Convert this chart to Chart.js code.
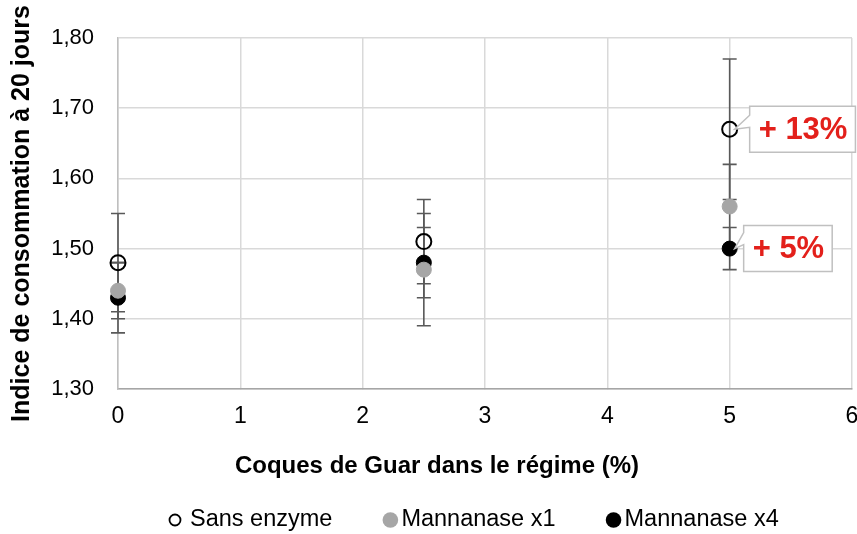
<!DOCTYPE html>
<html>
<head>
<meta charset="utf-8">
<script src="https://cdn.jsdelivr.net/npm/chart.js@4"></script>
<style>
  body { margin: 0; background: #fff; }
</style>
</head>
<body>
<canvas id="chart" width="857" height="534"></canvas>
<script>
const guarLevels = [0, 2.5, 5];

const sansEnzyme = [1.48, 1.51, 1.67];
const sansEnzymeErr = [0.07, 0.06, 0.10];

const mannanaseX1 = [1.44, 1.47, 1.56];
const mannanaseX1Err = [0.04, 0.08, 0.06];

const mannanaseX4 = [1.43, 1.48, 1.50];
const mannanaseX4Err = [0.05, 0.05, 0.03];

// callouts: series index, point index, text
const callouts = [
    { series: 0, point: 2, text: '+ 13%' },
    { series: 2, point: 2, text: '+ 5%' }
];

const xTitle = 'Coques de Guar dans le régime (%)';

const FONT = "'Liberation Sans', Arial, sans-serif";

function toPoints(values) {
    return values.map((v, i) => ({ x: guarLevels[i], y: v }));
}

const errors = [sansEnzymeErr, mannanaseX1Err, mannanaseX4Err];

// error bars drawn before the markers
const errorBars = {
    id: 'errorBars',
    beforeDatasetsDraw(chart) {
        const ctx = chart.ctx;
        const xs = chart.scales.x;
        const ys = chart.scales.y;
        ctx.save();
        ctx.strokeStyle = '#595959';
        ctx.lineWidth = 1.6;
        chart.data.datasets.forEach((ds, di) => {
            ds.data.forEach((p, i) => {
                const e = errors[di][i];
                const px = xs.getPixelForValue(p.x);
                const top = ys.getPixelForValue(p.y + e);
                const bot = ys.getPixelForValue(p.y - e);
                ctx.beginPath();
                ctx.moveTo(px, top);
                ctx.lineTo(px, bot);
                ctx.moveTo(px - 7, top);
                ctx.lineTo(px + 7, top);
                ctx.moveTo(px - 7, bot);
                ctx.lineTo(px + 7, bot);
                ctx.stroke();
            });
        });
        ctx.restore();
    }
};

// box placement next to the point (offset from point, wedge on the left side)
const calloutBoxes = [
    { dx: 20, dy: -23, h: 46, wedgeTop: 9, wedgeBottom: 21 },
    { dx: 14, dy: -23, h: 46, wedgeTop: 7, wedgeBottom: 19 }
];

const calloutLabels = {
    id: 'calloutLabels',
    afterDatasetsDraw(chart) {
        const ctx = chart.ctx;
        const xs = chart.scales.x;
        const ys = chart.scales.y;
        ctx.save();
        ctx.font = 'bold 31px ' + FONT;
        callouts.forEach((c, k) => {
            const b = calloutBoxes[k];
            const p = chart.data.datasets[c.series].data[c.point];
            const px = xs.getPixelForValue(p.x);
            const py = ys.getPixelForValue(p.y);
            const tw = ctx.measureText(c.text).width;
            const bx = px + b.dx;
            const by = py + b.dy;
            const bw = tw + 17;
            ctx.beginPath();
            ctx.moveTo(bx, by);
            ctx.lineTo(bx + bw, by);
            ctx.lineTo(bx + bw, by + b.h);
            ctx.lineTo(bx, by + b.h);
            ctx.lineTo(bx, by + b.wedgeBottom);
            ctx.lineTo(px + 5, py);
            ctx.lineTo(bx, by + b.wedgeTop);
            ctx.closePath();
            ctx.fillStyle = '#ffffff';
            ctx.fill();
            ctx.strokeStyle = '#c0c0c0';
            ctx.lineWidth = 1.5;
            ctx.stroke();
            ctx.fillStyle = '#e3201b';
            ctx.textBaseline = 'middle';
            ctx.fillText(c.text, bx + 9, by + b.h / 2 + 1);
        });
        ctx.restore();
    }
};

// x title centred on the whole figure, and the legend, drawn by hand
const bottomLegend = {
    id: 'bottomLegend',
    afterDraw(chart) {
        const ctx = chart.ctx;
        ctx.save();
        ctx.textBaseline = 'middle';
        ctx.fillStyle = '#000000';
        ctx.font = 'bold 24px ' + FONT;
        ctx.textAlign = 'center';
        ctx.fillText(xTitle, 437, 466);

        ctx.textAlign = 'left';
        ctx.font = '23.5px ' + FONT;
        let cx = 175;
        const y = 520;
        chart.data.datasets.forEach(ds => {
            const open = ds.label === 'Sans enzyme';
            ctx.beginPath();
            ctx.arc(cx, y, open ? 5.5 : 7.8, 0, Math.PI * 2);
            if (open) {
                ctx.strokeStyle = '#000000';
                ctx.lineWidth = 1.8;
                ctx.stroke();
            } else {
                ctx.fillStyle = ds.backgroundColor;
                ctx.fill();
            }
            const tx = cx + (open ? 15 : 11);
            ctx.fillStyle = '#000000';
            ctx.fillText(ds.label, tx, y);
            cx = tx + ctx.measureText(ds.label).width + 58;
        });
        ctx.restore();
    }
};

new Chart(document.getElementById('chart'), {
    type: 'scatter',
    data: {
        datasets: [
            {
                label: 'Sans enzyme',
                data: toPoints(sansEnzyme),
                pointStyle: 'circle',
                pointRadius: 7.5,
                pointHoverRadius: 7.5,
                backgroundColor: 'rgba(255,255,255,0)',
                borderColor: '#000000',
                borderWidth: 2,
                clip: false
            },
            {
                label: 'Mannanase x1',
                data: toPoints(mannanaseX1),
                pointStyle: 'circle',
                pointRadius: 7.5,
                pointHoverRadius: 7.5,
                backgroundColor: '#a6a6a6',
                borderColor: '#a6a6a6',
                borderWidth: 1,
                clip: false
            },
            {
                label: 'Mannanase x4',
                data: toPoints(mannanaseX4),
                pointStyle: 'circle',
                pointRadius: 7.5,
                pointHoverRadius: 7.5,
                backgroundColor: '#000000',
                borderColor: '#000000',
                borderWidth: 1,
                clip: false
            }
        ]
    },
    options: {
        responsive: false,
        animation: false,
        layout: { autoPadding: false, padding: { top: 38, right: 5, left: 6, bottom: 50 } },
        plugins: {
            tooltip: { enabled: false },
            legend: { display: false }
        },
        scales: {
            x: {
                type: 'linear',
                min: 0,
                max: 6,
                ticks: {
                    stepSize: 1,
                    color: '#000000',
                    padding: 14,
                    font: { family: FONT, size: 23 }
                },
                grid: { color: '#d9d9d9', lineWidth: 1.5, tickLength: 0 },
                border: { color: '#a6a6a6', width: 1.5 },
                afterFit(scale) {
                    // let the last tick label run off the right edge, as in the original
                    scale.paddingRight = 0;
                    scale.height = 95;
                }
            },
            y: {
                min: 1.3,
                max: 1.8,
                ticks: {
                    stepSize: 0.1,
                    color: '#000000',
                    padding: 24,
                    font: { family: FONT, size: 22 },
                    callback: v => v.toFixed(2).replace('.', ',')
                },
                grid: { color: '#d9d9d9', lineWidth: 1.5, tickLength: 0 },
                border: { color: '#bfbfbf', width: 1.5 },
                title: {
                    display: true,
                    text: 'Indice de consommation à 20 jours',
                    color: '#000000',
                    font: { family: FONT, size: 25, weight: 'bold' },
                    padding: { top: 1, bottom: 4 }
                },
                afterFit(scale) {
                    scale.paddingTop = 0;
                    scale.width = 112;
                }
            }
        }
    },
    plugins: [errorBars, calloutLabels, bottomLegend]
});
</script>
</body>
</html>
